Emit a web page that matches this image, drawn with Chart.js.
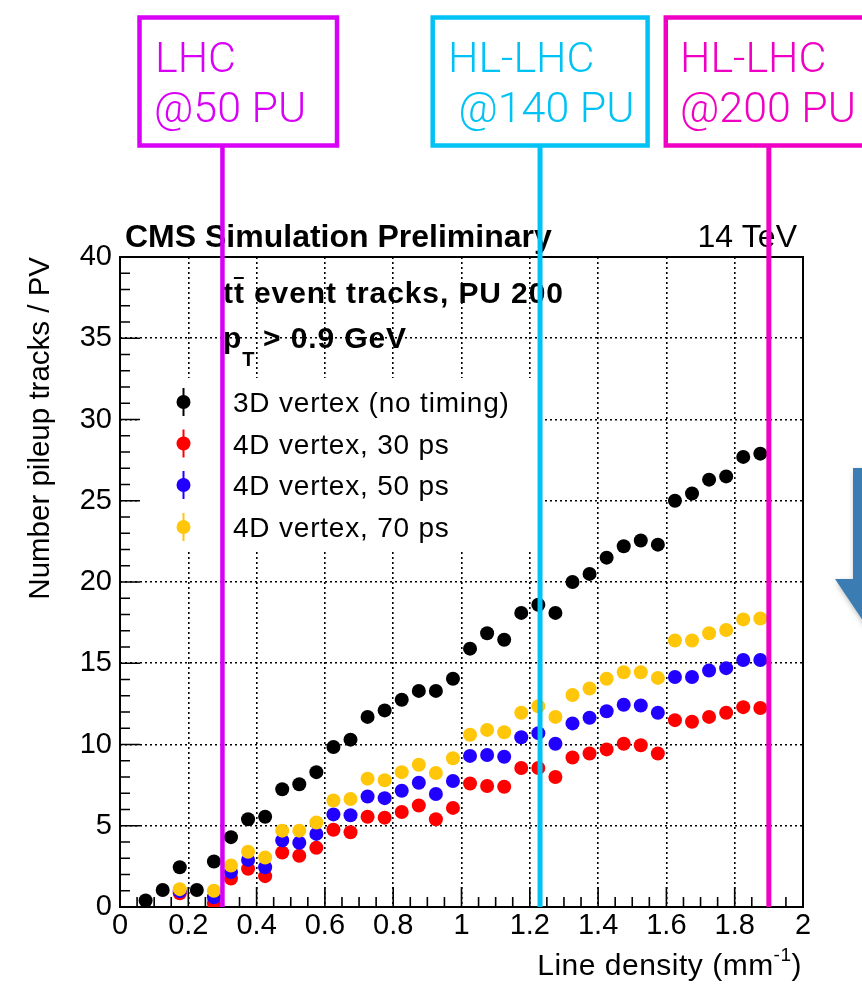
<!DOCTYPE html>
<html>
<head>
<meta charset="utf-8">
<script src="https://cdn.jsdelivr.net/npm/chart.js@4.4.0/dist/chart.umd.min.js"></script>
<style>
html, body { margin: 0; padding: 0; background: #fff; }
canvas { display: block; }
</style>
</head>
<body>
<canvas id="pileupChart" width="862" height="984"></canvas>
<script>
// bin centres of line density (mm^-1)
var lineDensity = [0.075, 0.125, 0.175, 0.225, 0.275, 0.325, 0.375, 0.425, 0.475, 0.525,
  0.575, 0.625, 0.675, 0.725, 0.775, 0.825, 0.875, 0.925, 0.975, 1.025,
  1.075, 1.125, 1.175, 1.225, 1.275, 1.325, 1.375, 1.425, 1.475, 1.525,
  1.575, 1.625, 1.675, 1.725, 1.775, 1.825, 1.875];

var vertex3D = [0.4, 1.05, 2.45, 1.05, 2.8, 4.3, 5.4, 5.55, 7.25, 7.55,
  8.3, 9.85, 10.3, 11.7, 12.1, 12.75, 13.3, 13.3, 14.05, 15.9,
  16.85, 16.45, 18.1, 18.6, 18.1, 20.0, 20.5, 21.5, 22.2, 22.55,
  22.3, 25.0, 25.45, 26.3, 26.5, 27.7, 27.9];

var vertex4D30 = [null, null, 0.85, null, 0.25, 1.75, 2.35, 1.9, 3.35, 3.15,
  3.65, 4.75, 4.6, 5.55, 5.5, 5.85, 6.25, 5.4, 6.1, 7.6,
  7.45, 7.4, 8.55, 8.55, 8.0, 9.2, 9.45, 9.7, 10.05, 9.95,
  9.45, 11.5, 11.4, 11.7, 11.95, 12.3, 12.25];

var vertex4D50 = [null, null, 0.97, null, 0.6, 2.15, 2.9, 2.45, 4.1, 3.95,
  4.5, 5.7, 5.65, 6.8, 6.7, 7.15, 7.65, 6.95, 7.75, 9.3,
  9.35, 9.25, 10.45, 10.7, 10.05, 11.3, 11.65, 12.05, 12.45, 12.4,
  11.95, 14.15, 14.15, 14.55, 14.7, 15.2, 15.2];

var vertex4D70 = [null, null, 1.1, null, 1.0, 2.55, 3.4, 3.05, 4.7, 4.7,
  5.2, 6.55, 6.65, 7.9, 7.8, 8.3, 8.75, 8.25, 9.15, 10.6,
  10.9, 10.75, 11.95, 12.35, 11.7, 13.05, 13.45, 14.05, 14.45, 14.45,
  14.1, 16.4, 16.4, 16.85, 17.05, 17.7, 17.75];

var seriesLabels = ["3D vertex (no timing)", "4D vertex, 30 ps", "4D vertex, 50 ps", "4D vertex, 70 ps"];
var seriesColors = ["#000000", "#ff0000", "#2200ff", "#ffc60a"];

var xTickLabels = ["0", "0.2", "0.4", "0.6", "0.8", "1", "1.2", "1.4", "1.6", "1.8", "2"];
var yTickLabels = ["0", "5", "10", "15", "20", "25", "30", "35", "40"];

// pileup scenarios marked by vertical lines
var puLabels = [["LHC", "@50 PU"], ["HL-LHC", " @140 PU"], ["HL-LHC", "@200 PU"]];
var puDensity = [0.3, 1.23, 1.9];
var puColors = ["#d900f7", "#00c2f5", "#f000c2"];

var helv = '"Liberation Sans", Arial, Helvetica, sans-serif';

function buildPoints(values) {
  var pts = [];
  for (var i = 0; i < lineDensity.length; i++) {
    if (values[i] !== null) {
      pts.push({ x: lineDensity[i], y: values[i] });
    }
  }
  return pts;
}

var allSeries = [vertex3D, vertex4D30, vertex4D50, vertex4D70];
var drawOrder = [0, 3, 2, 1];
var datasets = [];
for (var s = 0; s < allSeries.length; s++) {
  datasets.push({
    label: seriesLabels[s],
    data: buildPoints(allSeries[s]),
    backgroundColor: seriesColors[s],
    borderColor: seriesColors[s],
    pointRadius: 7,
    pointHoverRadius: 7,
    pointBorderWidth: 0,
    order: drawOrder[s]
  });
}

var decor = {
  id: "cmsDecor",
  beforeDatasetsDraw: function (chart) {
    var ctx = chart.ctx;
    var area = chart.chartArea;
    var xs = chart.scales.x;
    var ys = chart.scales.y;

    // white legend pad hides the grid behind it
    ctx.save();
    ctx.fillStyle = "#fff";
    ctx.fillRect(140, 378, 400, 172);

    // frame
    ctx.strokeStyle = "#000";
    ctx.lineWidth = 2;
    ctx.strokeRect(area.left, area.top, area.right - area.left, area.bottom - area.top);

    // inward ticks
    ctx.lineWidth = 1.6;
    ctx.beginPath();
    for (var k = 0; k <= 40; k++) {
      var py = ys.getPixelForValue(k);
      var len = (k % 5 === 0) ? 20 : 10;
      ctx.moveTo(area.left, py);
      ctx.lineTo(area.left + len, py);
    }
    for (var j = 0; j <= 40; j++) {
      var px = xs.getPixelForValue(j * 0.05);
      var lx = (j % 4 === 0) ? 20 : 10;
      ctx.moveTo(px, area.bottom);
      ctx.lineTo(px, area.bottom - lx);
    }
    ctx.stroke();
    ctx.restore();
  },
  afterDatasetsDraw: function (chart) {
    var ctx = chart.ctx;
    var area = chart.chartArea;
    var xs = chart.scales.x;
    ctx.save();
    ctx.fillStyle = "#000";
    ctx.textBaseline = "alphabetic";

    // header
    ctx.font = "bold 32px " + helv;
    ctx.textAlign = "left";
    ctx.fillText("CMS Simulation Preliminary", 125, 247);
    ctx.font = "32px " + helv;
    ctx.textAlign = "right";
    ctx.fillText("14 TeV", 797, 247);

    // selection text
    ctx.textAlign = "left";
    ctx.letterSpacing = "0.9px";
    ctx.font = "bold 30px " + helv;
    var tW = ctx.measureText("t").width;
    ctx.fillText("tt event tracks, PU 200", 223, 303);
    ctx.fillRect(223 + tW, 277, tW - 1, 2);
    ctx.fillText("p", 223, 348);
    var pW = ctx.measureText("p").width;
    ctx.font = "bold 20px " + helv;
    ctx.fillText("T", 223 + pW, 366);
    ctx.font = "bold 30px " + helv;
    ctx.fillText("> 0.9 GeV", 263, 348);

    // legend
    var rows = [402, 443.5, 485, 527];
    ctx.letterSpacing = "0.8px";
    ctx.font = "28px " + helv;
    for (var i = 0; i < seriesLabels.length; i++) {
      ctx.fillStyle = seriesColors[i];
      ctx.strokeStyle = seriesColors[i];
      ctx.lineWidth = 2;
      ctx.beginPath();
      ctx.moveTo(183.5, rows[i] - 14);
      ctx.lineTo(183.5, rows[i] + 14);
      ctx.stroke();
      ctx.beginPath();
      ctx.arc(183.5, rows[i], 7, 0, Math.PI * 2);
      ctx.fill();
      ctx.fillStyle = "#000";
      ctx.fillText(seriesLabels[i], 233, rows[i] + 10);
    }

    // axis titles
    ctx.letterSpacing = "0.5px";
    ctx.font = "30px " + helv;
    ctx.textAlign = "right";
    ctx.fillText(")", 802, 975);
    var closeW = ctx.measureText(")").width;
    ctx.font = "19px " + helv;
    var supW = ctx.measureText("-1").width;
    ctx.fillText("-1", 802 - closeW, 961);
    ctx.font = "30px " + helv;
    ctx.fillText("Line density (mm", 802 - closeW - supW, 975);

    ctx.letterSpacing = "0px";
    ctx.save();
    ctx.translate(49, 257);
    ctx.rotate(-Math.PI / 2);
    ctx.textAlign = "right";
    ctx.font = "29.5px " + helv;
    ctx.fillText("Number pileup tracks / PV", 0, 0);
    ctx.restore();

    // blue arrow at the right edge
    ctx.save();
    ctx.shadowColor = "rgba(0,0,0,0.35)";
    ctx.shadowBlur = 6;
    ctx.shadowOffsetX = 2;
    ctx.shadowOffsetY = 3;
    ctx.fillStyle = "#3b7db3";
    ctx.beginPath();
    ctx.moveTo(853, 468);
    ctx.lineTo(910, 468);
    ctx.lineTo(910, 579);
    ctx.lineTo(925, 579);
    ctx.lineTo(880, 646);
    ctx.lineTo(835, 579);
    ctx.lineTo(853, 579);
    ctx.closePath();
    ctx.fill();
    ctx.restore();

    // pileup scenario boxes and lines
    var boxes = [[139.5, 337], [432.7, 647.6], [665.8, 875]];
    var textX = [[155, 154], [448, 448], [680, 680]];
    for (var b = 0; b < puDensity.length; b++) {
      var col = puColors[b];
      var lx = xs.getPixelForValue(puDensity[b]);
      ctx.strokeStyle = col;
      ctx.lineWidth = b === 0 ? 4.5 : 5;
      ctx.beginPath();
      ctx.moveTo(lx, 146);
      ctx.lineTo(lx, area.bottom);
      ctx.stroke();
      ctx.lineWidth = 4.5;
      ctx.strokeRect(boxes[b][0], 17.5, boxes[b][1] - boxes[b][0], 128);
      ctx.fillStyle = col;
      ctx.textAlign = "left";
      ctx.font = "300 43px Roboto, \"Open Sans\", sans-serif";
      ctx.fillText(puLabels[b][0], textX[b][0], 72);
      ctx.fillText(puLabels[b][1], textX[b][1], 122);
    }
    ctx.restore();
  }
};

new Chart(document.getElementById("pileupChart").getContext("2d"), {
  type: "scatter",
  data: { datasets: datasets },
  options: {
    responsive: false,
    animation: false,
    layout: { padding: { top: 257, right: 59, left: 0, bottom: 0 } },
    plugins: { legend: { display: false }, tooltip: { enabled: false } },
    scales: {
      x: {
        type: "linear",
        min: 0,
        max: 2,
        afterFit: function (scale) { scale.height = 77; },
        afterBuildTicks: function (scale) {
          scale.ticks = xTickLabels.map(function (t) { return { value: parseFloat(t) }; });
        },
        ticks: {
          padding: 2,
          color: "#000",
          font: { family: helv, size: 29 },
          callback: function (value, index) { return xTickLabels[index]; }
        },
        grid: { color: "#000", lineWidth: 1.6, drawTicks: false },
        border: { display: false, dash: [2, 3] }
      },
      y: {
        type: "linear",
        min: 0,
        max: 40,
        afterFit: function (scale) { scale.width = 120; },
        afterBuildTicks: function (scale) {
          scale.ticks = yTickLabels.map(function (t) { return { value: parseFloat(t) }; });
        },
        ticks: {
          padding: 8,
          color: "#000",
          font: { family: helv, size: 29 },
          callback: function (value, index) { return yTickLabels[index]; }
        },
        grid: { color: "#000", lineWidth: 1.6, drawTicks: false },
        border: { display: false, dash: [2, 3] }
      }
    }
  },
  plugins: [decor]
});
</script>
</body>
</html>
